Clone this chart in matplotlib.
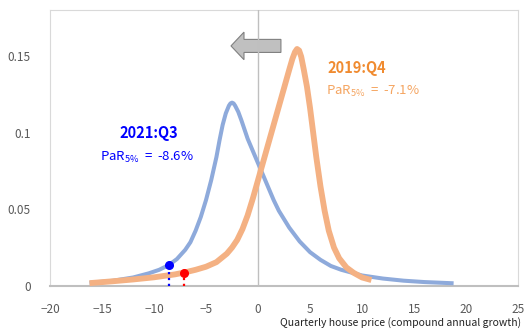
import matplotlib.pyplot as plt
from matplotlib.patches import FancyArrow

plt.rcParams['font.family'] = ['Noto Sans CJK KR', 'DejaVu Sans']

# densities
x_2021q3 = [-16.2, -14, -12, -10.5, -9.5, -8.6, -7.8, -7, -6.5, -6, -5.5, -5, -4.5, -4,
            -3.7, -3.4, -3.1, -2.8, -2.65, -2.5, -2.35, -2.2, -1.9, -1.6, -1.3, -1, -0.5, 0,
            0.5, 1, 1.5, 2, 3, 4, 5, 6, 7, 8, 10, 12, 14, 16, 18.8]
y_2021q3 = [0.0020, 0.0033, 0.0055, 0.0082, 0.0105, 0.0135, 0.0175, 0.0235, 0.0285, 0.036,
            0.045, 0.056, 0.069, 0.084, 0.095, 0.105, 0.1125, 0.1175, 0.1190, 0.1195, 0.1190,
            0.1175, 0.1135, 0.108, 0.102, 0.096, 0.088, 0.080, 0.072, 0.064, 0.056, 0.049,
            0.038, 0.029, 0.022, 0.017, 0.013, 0.0105, 0.0068, 0.0048, 0.0034, 0.0025, 0.0017]

x_2019q4 = [-16.2, -14, -12, -10, -8, -7.1, -6, -5, -4, -3, -2.5, -2, -1.5, -1, -0.5, 0,
            0.5, 1, 1.5, 2, 2.5, 3, 3.3, 3.55, 3.75, 3.95, 4.15, 4.4, 4.7, 5, 5.3, 5.6, 6,
            6.4, 6.8, 7.3, 7.8, 8.5, 9.2, 10, 10.9]
y_2019q4 = [0.0018, 0.0030, 0.0042, 0.0056, 0.0075, 0.0087, 0.0105, 0.0125, 0.0155, 0.021,
            0.025, 0.030, 0.037, 0.046, 0.057, 0.069, 0.081, 0.093, 0.105, 0.117, 0.129,
            0.141, 0.148, 0.1525, 0.1545, 0.1535, 0.1495, 0.141, 0.130, 0.116, 0.100, 0.084,
            0.065, 0.049, 0.036, 0.025, 0.018, 0.012, 0.0085, 0.0055, 0.0038]

par_x = [-8.6, -7.1]
par_y = [0.0135, 0.0087]

fig = plt.figure(figsize=(5.26, 3.29), dpi=100)
ax = fig.add_axes([0.095, 0.131, 0.890, 0.839])

ax.axvline(0, color='#bfbfbf', lw=1.0, zorder=3)
arr = FancyArrow(2.2, 0.1565, -4.8, 0, width=0.0085, head_width=0.018, head_length=1.25,
                 length_includes_head=True, fc='#c0c0c0', ec='#808080', lw=0.8, zorder=2)
ax.add_patch(arr)

ax.plot(x_2021q3, y_2021q3, color='#8eaadb', lw=2.9, solid_capstyle='butt',
        solid_joinstyle='round', zorder=4)
ax.plot(x_2019q4, y_2019q4, color='#f4b183', lw=4.2, solid_capstyle='butt',
        solid_joinstyle='round', zorder=5)

ax.plot([par_x[0], par_x[0]], [0, par_y[0]], color='#0000ff', ls=':', lw=1.6, zorder=6)
ax.plot([par_x[1], par_x[1]], [0, par_y[1]], color='#ff0000', ls=':', lw=1.6, zorder=6)
ax.plot(par_x[0], par_y[0], 'o', color='#0000ff', ms=5.5, zorder=7)
ax.plot(par_x[1], par_y[1], 'o', color='#ff0000', ms=5.5, zorder=7)

ax.text(-10.5, 0.0994, '2021:Q3', color='#0000ff', fontsize=10.5, fontweight='bold',
        ha='center', va='center')
ax.text(-10.7, 0.0838, r'PaR$_{\mathregular{5\%}}$  =  -8.6%', color='#0000ff', fontsize=9.5,
        ha='center', va='center')
ax.text(9.5, 0.142, '2019:Q4', color='#f08b30', fontsize=10.5, fontweight='bold',
        ha='center', va='center')
ax.text(11.0, 0.1265, r'PaR$_{\mathregular{5\%}}$  =  -7.1%', color='#f5a561', fontsize=9.5,
        ha='center', va='center')

ax.set_xlim(-20, 25)
ax.set_ylim(0, 0.18)
ax.set_xticks(range(-20, 26, 5))
ax.set_yticks([0, 0.05, 0.1, 0.15])
ax.set_yticklabels(['0', '0.05', '0.1', '0.15'])
ax.tick_params(length=0, labelsize=8.5, labelcolor='#595959', pad=14)
ax.tick_params(axis='x', pad=12)
for s in ['left', 'right', 'top']:
    ax.spines[s].set_color('#d9d9d9')
ax.spines['bottom'].set_color('#bfbfbf')
ax.spines['bottom'].set_linewidth(1.5)

fig.text(0.762, 0.02, 'Quarterly house price (compound annual growth)', fontsize=7.5,
         ha='center', va='center', color='#222222')

fig.savefig('out.png', dpi=100)
